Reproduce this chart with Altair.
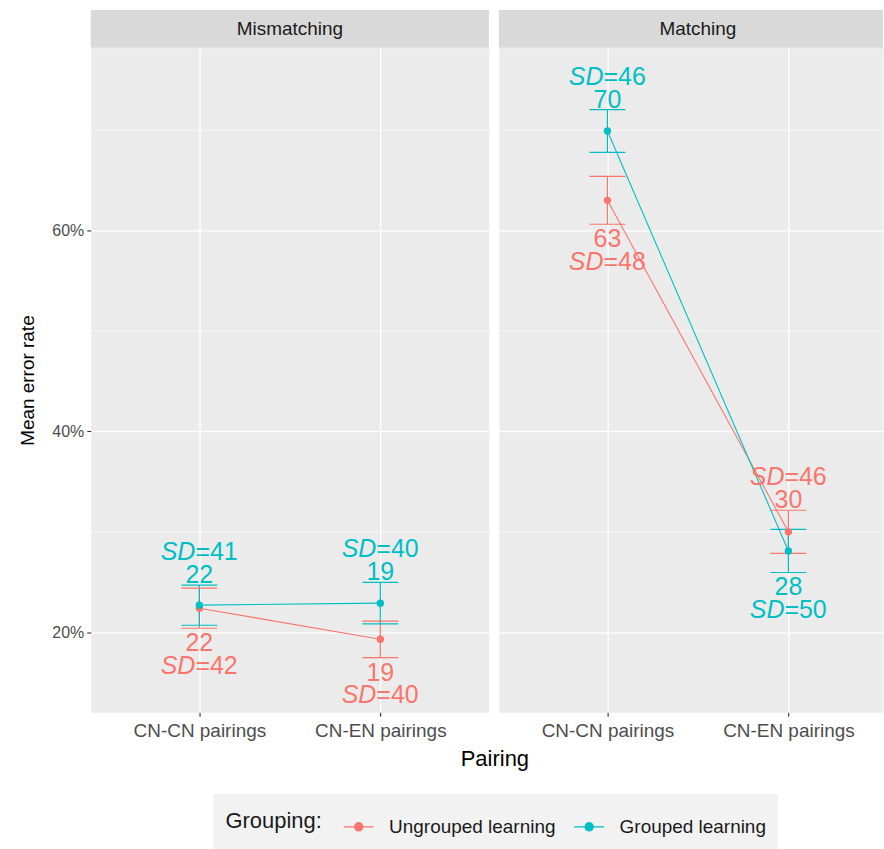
import altair as alt
import pandas as pd

pairings = ["CN-CN pairings", "CN-EN pairings"]
conditions = ["Mismatching", "Matching"]
groups = ["Ungrouped learning", "Grouped learning"]
group_colors = ["#F8766D", "#00BFC4"]

# Mean error rate (%) and standard error, per pairing
ungrouped_mismatch_mean = [22.4, 19.3]
ungrouped_mismatch_se = [2.0, 1.82]
ungrouped_match_mean = [63.0, 30.0]
ungrouped_match_se = [2.38, 2.15]
grouped_mismatch_mean = [22.7, 22.9]
grouped_mismatch_se = [2.0, 2.07]
grouped_match_mean = [69.9, 28.1]
grouped_match_se = [2.13, 2.15]

# Printed annotations: rounded mean and SD
ungrouped_mismatch_label = ["22", "19"]
ungrouped_mismatch_sd = ["42", "40"]
ungrouped_match_label = ["63", "30"]
ungrouped_match_sd = ["48", "46"]
grouped_mismatch_label = ["22", "19"]
grouped_mismatch_sd = ["41", "40"]
grouped_match_label = ["70", "28"]
grouped_match_sd = ["46", "50"]

series = {
    ("Ungrouped learning", "Mismatching"): (ungrouped_mismatch_mean, ungrouped_mismatch_se,
                                            ungrouped_mismatch_label, ungrouped_mismatch_sd),
    ("Ungrouped learning", "Matching"): (ungrouped_match_mean, ungrouped_match_se,
                                         ungrouped_match_label, ungrouped_match_sd),
    ("Grouped learning", "Mismatching"): (grouped_mismatch_mean, grouped_mismatch_se,
                                          grouped_mismatch_label, grouped_mismatch_sd),
    ("Grouped learning", "Matching"): (grouped_match_mean, grouped_match_se,
                                       grouped_match_label, grouped_match_sd),
}

rows = []
for (grp, cond), (means, ses, labels, sds) in series.items():
    other = [g for g in groups if g != grp][0]
    other_means = series[(other, cond)][0]
    for i, p in enumerate(pairings):
        m, s = means[i], ses[i]
        rows.append({
            "condition": cond,
            "pairing": p,
            "xpos": i,
            "group": grp,
            "mean": m / 100,
            "lo": (m - s) / 100,
            "hi": (m + s) / 100,
            "label": labels[i],
            "sd_eq": "=" + sds[i],
            "sd_tag": "SD",
            # the higher series is annotated above, the lower one below
            "side": "above" if m > other_means[i] else "below",
        })
df = pd.DataFrame(rows)

FONT = "Liberation Sans"
Y_DOMAIN = [0.1203, 0.7818]
PANEL_H = 666
FULL_W = 399          # width of an uncropped panel
STEP_PAD = 0.6        # discrete axis expansion, in category steps

color = alt.Color(
    "group:N",
    scale=alt.Scale(domain=groups, range=group_colors),
    legend=alt.Legend(
        title="Grouping:",
        orient="none",
        legendX=123,
        legendY=748,
        direction="horizontal",
        titleOrient="left",
        titleAnchor="middle",
        titleBaseline="middle",
        titleFontSize=22,
        titleFontWeight="normal",
        titleColor="#1A1A1A",
        titlePadding=16,
        labelFontSize=19,
        labelColor="#1A1A1A",
        labelLimit=400,
        labelOffset=10,
        columnPadding=13,
        symbolType="M-0.77,0L0.77,0M-0.21,0A0.21,0.21,0,1,0,0.21,0A0.21,0.21,0,1,0,-0.21,0Z",
        symbolSize=1521,
        symbolStrokeWidth=1.3,
        fillColor="#F2F2F2",
        padding=12,
    ),
)


def panel(cond, width, show_y):
    n = len(pairings)
    step = FULL_W / (n - 1 + 2 * STEP_PAD)
    x_max = width / step - STEP_PAD
    label_expr = "[" + ",".join("'" + p + "'" for p in pairings) + "][datum.value]"
    x_axis = alt.Axis(
        values=list(range(n)), labelExpr=label_expr, grid=True, gridColor="white", gridWidth=1.3,
        domain=False, tickColor="#333333", tickSize=4, tickWidth=1.1,
        labelFontSize=19, labelColor="#4D4D4D", labelPadding=5, labelFont=FONT,
        title="Pairing" if show_y else "", titleFontSize=22, titleFontWeight="normal",
        titleColor="#000000", titleFont=FONT, titleX=404.5, titlePadding=8,
    )
    x = alt.X("xpos:Q", scale=alt.Scale(domain=[-STEP_PAD, x_max], nice=False, zero=False), axis=x_axis)
    if show_y:
        y_axis = alt.Axis(
            values=[0.2, 0.4, 0.6], format=".0%", grid=True, gridColor="white", gridWidth=1.3,
            domain=False, tickColor="#333333", tickSize=4, tickWidth=1.1,
            labelFontSize=16, labelColor="#4D4D4D", labelPadding=3, labelFont=FONT,
            title="Mean error rate", titleFontSize=19, titleFontWeight="normal",
            titleColor="#000000", titleFont=FONT, titlePadding=14,
        )
    else:
        y_axis = alt.Axis(values=[0.2, 0.4, 0.6], grid=True, gridColor="white", gridWidth=1.3,
                          domain=False, ticks=False, labels=False, title="")
    yscale = alt.Scale(domain=Y_DOMAIN, nice=False, zero=False)
    y = alt.Y("mean:Q", scale=yscale, axis=y_axis)

    data = df[df["condition"] == cond]
    base = alt.Chart(data)

    minor = alt.Chart(pd.DataFrame({"v": [0.3, 0.5, 0.7]})).mark_rule(
        color="white", strokeWidth=0.6
    ).encode(y=alt.Y("v:Q", scale=yscale))

    bars = base.mark_rule(strokeWidth=1.2).encode(
        x=x, y=alt.Y("lo:Q", scale=yscale), y2="hi:Q", color=color)
    cap_hi = base.mark_rule(strokeWidth=1.2, xOffset=-18, x2Offset=18).encode(
        x=x, x2="xpos:Q", y=alt.Y("hi:Q", scale=yscale), color=color)
    cap_lo = base.mark_rule(strokeWidth=1.2, xOffset=-18, x2Offset=18).encode(
        x=x, x2="xpos:Q", y=alt.Y("lo:Q", scale=yscale), color=color)
    line = base.mark_line(strokeWidth=1.1).encode(x=x, y=y, color=color, detail="group:N")
    pts = base.mark_circle(size=55, opacity=1).encode(x=x, y=y, color=color)

    def annot(side, col, **kw):
        anchor = "hi" if side == "above" else "lo"
        return base.transform_filter(alt.datum.side == side).mark_text(
            font=FONT, fontSize=25, baseline="alphabetic", **kw
        ).encode(x=x, y=alt.Y(anchor + ":Q", scale=yscale), text=col + ":N", color=color)

    texts = [
        annot("above", "label", dy=-2),
        annot("above", "sd_tag", dy=-25, align="right", dx=-4, fontStyle="italic"),
        annot("above", "sd_eq", dy=-25, align="left", dx=-4),
        annot("below", "label", dy=23),
        annot("below", "sd_tag", dy=46, align="right", dx=-4, fontStyle="italic"),
        annot("below", "sd_eq", dy=46, align="left", dx=-4),
    ]

    strip_df = pd.DataFrame({"strip": [cond]})
    strip_bg = alt.Chart(strip_df).mark_rect(fill="#D9D9D9").encode(
        x=alt.value(0), x2=alt.value(width), y=alt.value(-38), y2=alt.value(0))
    strip_tx = alt.Chart(strip_df).mark_text(font=FONT, fontSize=19, color="#1A1A1A", baseline="middle").encode(
        x=alt.value(FULL_W / 2), y=alt.value(-19), text="strip:N")

    return alt.layer(minor, bars, cap_hi, cap_lo, line, pts, *texts, strip_bg, strip_tx).properties(
        width=width, height=PANEL_H)


chart = alt.hconcat(
    panel("Mismatching", FULL_W, True),
    panel("Matching", 385, False),
    spacing=10,
    bounds="flush",
).properties(
    padding={"left": 18, "top": 8, "right": 0, "bottom": 0},
    background="white",
).configure_view(
    fill="#EBEBEB", stroke="transparent"
).configure_axis(
    labelFont=FONT, titleFont=FONT
).configure_legend(
    labelFont=FONT, titleFont=FONT
)

chart.save("out.html", embed_options={"renderer": "svg", "actions": False})
